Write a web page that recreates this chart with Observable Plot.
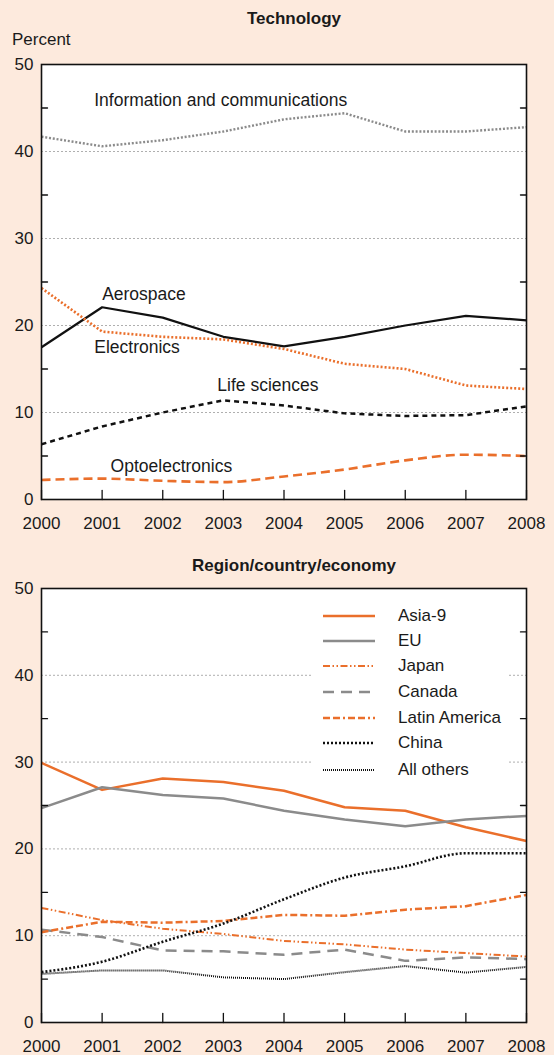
<!DOCTYPE html>
<html><head><meta charset="utf-8">
<script src="https://cdn.jsdelivr.net/npm/d3@7"></script>
<script src="https://cdn.jsdelivr.net/npm/@observablehq/plot@0.6"></script>
<style>
html,body{margin:0;padding:0;background:#fdeadd;}
body{width:554px;height:1055px;position:relative;overflow:hidden;font-family:"Liberation Sans",Arial,Helvetica,sans-serif;color:#1a1a1a;}
.title{position:absolute;left:0;width:554px;padding-left:34px;box-sizing:border-box;text-align:center;font-weight:bold;font-size:17px;line-height:20px}
#t1{top:9px}
#t2{top:556px}
#pct{position:absolute;left:12px;top:30px;font-size:17px;line-height:20px}
#c1{position:absolute;left:0;top:50px}
#c2{position:absolute;left:0;top:575px}
#legend{position:absolute;left:313px;top:598px;width:196px;height:187px;background:#fff}
.lrow{position:absolute;left:0;width:196px;height:20px}
.lrow svg{position:absolute;left:10px;top:7px}
.lrow span{position:absolute;left:85px;top:0px;font-size:17px;line-height:20px}
</style></head><body>
<div class="title" id="t1">Technology</div>
<div id="pct">Percent</div>
<div id="c1"></div>
<div class="title" id="t2">Region/country/economy</div>
<div id="c2"></div>
<div id="legend"></div>
<script>
// ---- data ----
const years = [2000, 2001, 2002, 2003, 2004, 2005, 2006, 2007, 2008];
const yTicks = [0, 10, 20, 30, 40, 50];
const gridValues = [10, 20, 30, 40];
const minorTicks = [5, 15, 25, 35, 45];

const techNames = ["Information and communications", "Aerospace", "Electronics", "Life sciences", "Optoelectronics"];
const infoComm = [41.7, 40.6, 41.3, 42.3, 43.7, 44.4, 42.3, 42.3, 42.8];
const aerospace = [17.5, 22.1, 20.9, 18.7, 17.6, 18.7, 20.0, 21.1, 20.6];
const electronics = [24.3, 19.3, 18.7, 18.4, 17.3, 15.6, 15.0, 13.1, 12.7];
const lifeSciences = [6.35, 8.4, 10.0, 11.4, 10.8, 9.9, 9.6, 9.7, 10.7];
const optoelectronics = [2.25, 2.4, 2.15, 2.0, 2.65, 3.45, 4.5, 5.15, 5.0];
// annotation anchor (year, percent) for each technology label
const techLabelYear = [2000.87, 2001.0, 2000.87, 2002.9, 2001.14];
const techLabelValue = [45.9, 23.6, 17.5, 13.1, 3.8];

const regionNames = ["Asia-9", "EU", "Japan", "Canada", "Latin America", "China", "All others"];
const asia9 = [29.9, 26.8, 28.1, 27.7, 26.7, 24.8, 24.4, 22.5, 20.9];
const eu = [24.7, 27.1, 26.2, 25.8, 24.4, 23.4, 22.6, 23.4, 23.8];
const japan = [13.2, 11.8, 10.8, 10.2, 9.4, 9.0, 8.4, 8.0, 7.6];
const canada = [10.7, 9.85, 8.3, 8.2, 7.8, 8.4, 7.1, 7.5, 7.3];
const latinAmerica = [10.4, 11.6, 11.5, 11.7, 12.4, 12.3, 13.0, 13.4, 14.7];
const china = [5.8, 7.0, 9.3, 11.4, 14.2, 16.7, 18.0, 19.5, 19.5];
const allOthers = [5.6, 6.0, 6.0, 5.2, 5.0, 5.8, 6.5, 5.75, 6.4];

// ---- styles ----
const ORANGE = "#ea6f2b", GRAY = "#8b8b8b", BLACK = "#111";
const techStyles = [
  {stroke: GRAY, width: 2.4, dash: "2,1.8"},
  {stroke: BLACK, width: 2.2, dash: null},
  {stroke: ORANGE, width: 2.6, dash: "2,2"},
  {stroke: BLACK, width: 2.5, dash: "5,4"},
  {stroke: ORANGE, width: 2.6, dash: "9,5", curve: "monotone-x"}
];
const regionStyles = [
  {stroke: ORANGE, width: 2.5, dash: null},
  {stroke: GRAY, width: 2.5, dash: null},
  {stroke: ORANGE, width: 2, dash: "7,2.5,1.5,2.5,1.5,2.5"},
  {stroke: GRAY, width: 2.5, dash: "11,7"},
  {stroke: ORANGE, width: 2.5, dash: "7,3,7,3,2,3"},
  {stroke: BLACK, width: 2.6, dash: "2,2", curve: "monotone-x"},
  {stroke: BLACK, width: 2, dash: "1,1"}
];

const tickShape = {draw(context, l) { context.moveTo(0, 0); context.lineTo(0, -l); }};

function chart(names, valuesList, styles, opts) {
  const marks = [
    Plot.frame({fill: "white", stroke: "none"}),
    Plot.ruleY(gridValues, {y: d => d, stroke: "#9a9a9a", strokeWidth: 0.8, strokeDasharray: "2,2"})
  ];
  names.forEach((name, k) => {
    const st = styles[k];
    const rows = years.map((yr, i) => ({year: yr, value: valuesList[k][i]}));
    marks.push(Plot.line(rows, {x: "year", y: "value", stroke: st.stroke, strokeWidth: st.width,
      strokeDasharray: st.dash, curve: st.curve || "linear", strokeLinecap: "butt"}));
  });
  if (opts.labels) marks.push(Plot.text(opts.labels, {x: "x", y: "y", text: "text", textAnchor: "start", fontSize: 17.5, fill: "#1a1a1a"}));
  marks.push(
    Plot.vector(years, {x: d => d, y: d => 0, length: 9, rotate: 0, anchor: "start", shape: tickShape, stroke: BLACK, strokeWidth: 1.3}),
    Plot.vector(minorTicks, {x: d => years[0], y: d => d, length: 6, rotate: 90, anchor: "start", shape: tickShape, stroke: BLACK, strokeWidth: 1.3}),
    Plot.vector(minorTicks, {x: d => years[years.length - 1], y: d => d, length: 6, rotate: -90, anchor: "start", shape: tickShape, stroke: BLACK, strokeWidth: 1.3}),
    Plot.frame({stroke: BLACK, strokeWidth: 1.6}),
    Plot.axisX(years, {tickSize: 0, tickPadding: 17, tickFormat: d => String(d), label: null, fill: "#1a1a1a"}),
    Plot.axisY(yTicks, {tickSize: 0, tickPadding: 8, label: null, fill: "#1a1a1a"})
  );
  return Plot.plot({
    width: 554, height: opts.height,
    marginTop: opts.marginTop, marginBottom: opts.marginBottom, marginLeft: 41, marginRight: 28,
    x: {domain: [years[0], years[years.length - 1]]},
    y: {domain: [0, 50]},
    style: {background: "transparent", fontSize: "17px", fontFamily: "'Liberation Sans', Arial, Helvetica, sans-serif", color: "#1a1a1a", overflow: "visible"},
    marks
  });
}

const techLabels = techNames.map((t, i) => ({text: t, x: techLabelYear[i], y: techLabelValue[i]}));
document.getElementById("c1").append(chart(techNames,
  [infoComm, aerospace, electronics, lifeSciences, optoelectronics], techStyles,
  {height: 485, marginTop: 14, marginBottom: 36, labels: techLabels}));
document.getElementById("c2").append(chart(regionNames,
  [asia9, eu, japan, canada, latinAmerica, china, allOthers], regionStyles,
  {height: 480, marginTop: 13, marginBottom: 33}));

// legend
const leg = document.getElementById("legend");
const rowCenters = [18, 43, 68, 94, 120, 145, 172];
regionNames.forEach((n, k) => {
  const st = regionStyles[k];
  const row = document.createElement("div");
  row.className = "lrow";
  row.style.top = (rowCenters[k] - 10) + "px";
  row.innerHTML = `<svg width="54" height="6"><line x1="0" x2="52" y1="3" y2="3" stroke="${st.stroke}" stroke-width="${st.width}" ${st.dash ? `stroke-dasharray="${st.dash}"` : ""}/></svg><span>${n}</span>`;
  leg.append(row);
});
</script>
</body></html>
